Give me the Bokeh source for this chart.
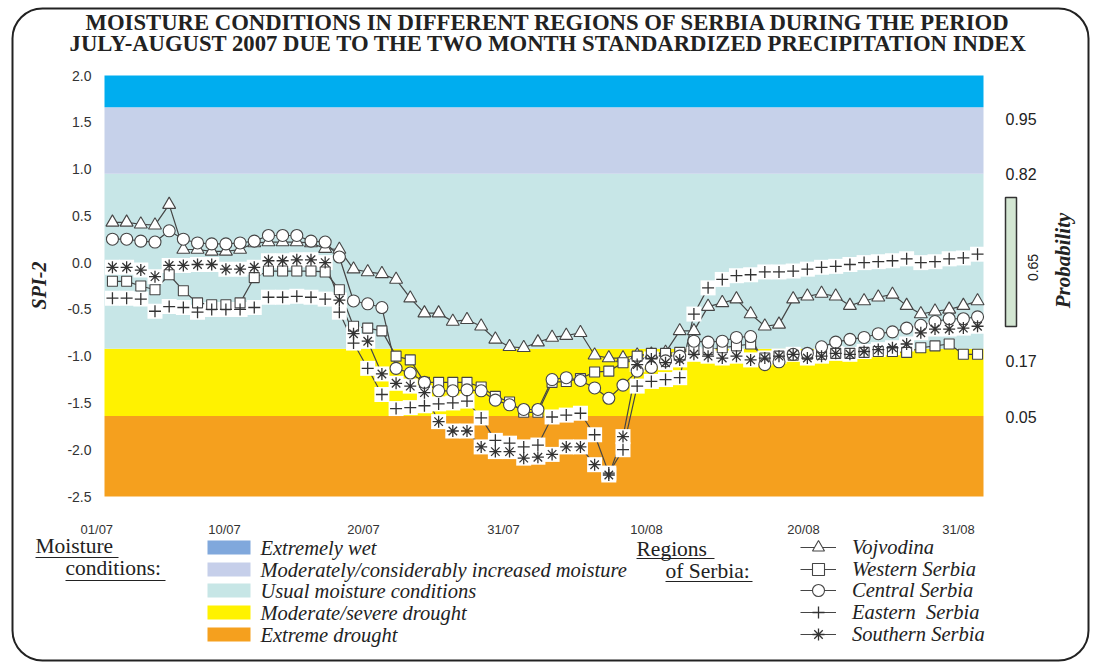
import math
from bokeh.plotting import figure
from bokeh.models import (FixedTicker, LinearAxis, Label, BoxAnnotation, Legend,
                          LegendItem, Range1d)
from bokeh.embed import file_html
from bokeh.resources import INLINE

# ---------------- data ----------------
DAYS = list(range(62))  # 01/07 .. 31/08
DATE_LABELS = ["01/07", "10/07", "20/07", "31/07", "10/08", "20/08", "31/08"]

VOJVODINA = [0.43, 0.43, 0.41, 0.40, 0.62, 0.14, 0.14, 0.12, 0.12, 0.14,
             0.21, 0.22, 0.22, 0.22, 0.21, 0.15, 0.14, -0.07, -0.10, -0.12,
             -0.18, -0.38, -0.54, -0.54, -0.63, -0.61, -0.68, -0.82, -0.90, -0.91,
             -0.85, -0.80, -0.78, -0.75, -0.99, -1.02, -1.02, -0.99, -0.98, -0.96,
             -0.73, -0.73, -0.47, -0.43, -0.39, -0.55, -0.68, -0.66, -0.39, -0.36,
             -0.33, -0.36, -0.46, -0.41, -0.37, -0.34, -0.46, -0.55, -0.52, -0.50,
             -0.46, -0.41]
WESTERN = [-0.20, -0.20, -0.25, -0.29, -0.13, -0.30, -0.43, -0.45, -0.45, -0.43,
           -0.16, -0.09, -0.09, -0.09, -0.09, -0.10, -0.29, -0.68, -0.70, -0.73,
           -1.00, -1.04, -1.28, -1.28, -1.28, -1.28, -1.33, -1.43, -1.49, -1.60,
           -1.60, -1.28, -1.27, -1.24, -1.17, -1.16, -1.07, -1.00, -0.97, -0.97,
           -0.96, -0.93, -0.93, -0.91, -0.89, -0.87, -1.02, -1.00, -0.99, -0.98,
           -0.98, -0.97, -0.97, -0.96, -0.95, -0.95, -0.96, -0.91, -0.89, -0.87,
           -0.98, -0.98]
CENTRAL = [0.25, 0.25, 0.23, 0.22, 0.34, 0.25, 0.21, 0.20, 0.20, 0.21,
           0.23, 0.29, 0.29, 0.29, 0.23, 0.22, 0.06, -0.41, -0.44, -0.48,
           -1.13, -1.18, -1.28, -1.37, -1.37, -1.36, -1.37, -1.47, -1.52, -1.57,
           -1.57, -1.25, -1.23, -1.26, -1.34, -1.45, -1.31, -1.16, -1.12, -1.05,
           -1.00, -0.84, -0.85, -0.84, -0.80, -0.79, -1.09, -1.06, -0.98, -0.97,
           -0.90, -0.85, -0.82, -0.80, -0.76, -0.74, -0.70, -0.67, -0.63, -0.60,
           -0.60, -0.58]
EASTERN = [-0.38, -0.38, -0.39, -0.52, -0.47, -0.48, -0.53, -0.50, -0.50, -0.50,
           -0.48, -0.37, -0.37, -0.36, -0.37, -0.39, -0.53, -0.86, -1.13, -1.41,
           -1.56, -1.55, -1.53, -1.51, -1.50, -1.48, -1.66, -1.90, -1.93, -1.97,
           -1.95, -1.65, -1.63, -1.61, -1.84, -2.25, -2.00, -1.32, -1.27, -1.25,
           -1.23, -0.55, -0.27, -0.18, -0.14, -0.13, -0.10, -0.10, -0.09, -0.07,
           -0.05, -0.04, -0.02, 0.00, 0.01, 0.02, 0.04, 0.00, 0.01, 0.04,
           0.05, 0.09]
SOUTHERN = [-0.05, -0.05, -0.08, -0.15, -0.03, -0.03, -0.02, -0.02, -0.07, -0.07,
            -0.05, 0.02, 0.02, 0.03, 0.03, 0.00, -0.40, -0.76, -0.84, -1.19,
            -1.29, -1.32, -1.39, -1.70, -1.80, -1.80, -1.97, -2.02, -2.02, -2.09,
            -2.08, -2.05, -1.97, -1.97, -2.16, -2.27, -1.86, -1.09, -1.03, -1.07,
            -1.04, -0.98, -1.00, -1.02, -1.00, -1.04, -1.02, -1.00, -0.98, -1.02,
            -1.00, -0.97, -0.98, -0.95, -0.93, -0.91, -0.87, -0.75, -0.71, -0.71,
            -0.70, -0.68]

# SPI-2 class boundaries (moisture condition bands)
BAND_LOW = [-2.5, -1.64, -0.92, 0.95, 1.66]
BAND_HIGH = [-1.64, -0.92, 0.95, 1.66, 2.0]
BAND_NAMES = ["Extreme drought", "Moderate/severe drought", "Usual moisture conditions",
              "Moderately/considerably increased moisture", "Extremely wet"]
PROB_LABELS = ["0.95", "0.82", "0.17", "0.05"]
SPI_TICKS = [-2.5, -2.0, -1.5, -1.0, -0.5, 0.0, 0.5, 1.0, 1.5, 2.0]

# ---------------- layout / style ----------------
W, H = 1095, 663
X_MIN, X_MAX = -0.56, 61.42          # extent of the chart area (days)
Y_MIN, Y_MAX = -2.5, 2.0             # extent of the chart area (SPI-2)
AREA_LEFT_PX, AREA_RIGHT_PX = 104, 983
AREA_TOP_PX, AREA_BOTTOM_PX = 75, 496
PX_PER_DAY = (AREA_RIGHT_PX - AREA_LEFT_PX) / (X_MAX - X_MIN)
PX_PER_SPI = (AREA_BOTTOM_PX - AREA_TOP_PX) / (Y_MAX - Y_MIN)
X_RANGE = (X_MIN - AREA_LEFT_PX / PX_PER_DAY, X_MAX + (W - AREA_RIGHT_PX) / PX_PER_DAY)
Y_RANGE = (Y_MIN - (H - AREA_BOTTOM_PX) / PX_PER_SPI, Y_MAX + AREA_TOP_PX / PX_PER_SPI)

BAND_COLORS = ["#f5a01e", "#fff200", "#c7e6e7", "#c6d1ea", "#00adef"]
SWATCH_COLORS = ["#f5a01e", "#fff200", "#c7e6e6", "#c6cfea", "#80a8dc"]
TICK_POS = [-1.1, 7.9, 17.7, 27.57, 37.66, 48.73, 59.66]
PROB_POS = [1.536, 0.946, -1.055, -1.65]
LEGEND_ROWS_PX = [547, 569, 590, 612, 634]
SERIF = "Liberation Serif"
SANS = "Liberation Sans"
INK = "#222222"
LINE = "#454545"

p = figure(width=W, height=H, output_backend="svg", toolbar_location=None,
           x_range=Range1d(*X_RANGE), y_range=Range1d(*Y_RANGE),
           x_axis_location=None, y_axis_location=None,
           min_border_left=0, min_border_right=0, min_border_top=0,
           min_border_bottom=0)
p.xgrid.visible = False
p.ygrid.visible = False
p.outline_line_color = None
p.background_fill_color = "white"
p.border_fill_color = "white"

# bands
p.quad(left=X_MIN, right=X_MAX, bottom=BAND_LOW, top=BAND_HIGH,
       fill_color=BAND_COLORS, line_color=None)


def make_axis(loc, ticks, labels, font, size, standoff, color):
    ax = LinearAxis(fixed_location=loc, ticker=FixedTicker(ticks=ticks),
                    major_label_overrides={t: l for t, l in zip(ticks, labels)},
                    major_label_text_font=font, major_label_text_font_size=size,
                    major_label_text_color=color, major_label_standoff=standoff,
                    axis_line_color=None, major_tick_line_color=None,
                    minor_tick_line_color=None)
    return ax


p.add_layout(make_axis(Y_MIN, TICK_POS, DATE_LABELS, SANS, "13px", 19, "#333333"), "below")
p.add_layout(make_axis(X_MIN, SPI_TICKS, [f"{t:.1f}" for t in SPI_TICKS], SANS, "14px", 7,
                       "#333333"), "left")
p.add_layout(make_axis(X_MAX, PROB_POS, PROB_LABELS, SANS, "16px", 16, INK), "right")

# series
series = [("Vojvodina", VOJVODINA, "triangle", 13),
          ("Western Serbia", WESTERN, "square", 10),
          ("Central Serbia", CENTRAL, "circle", 12),
          ("Eastern  Serbia", EASTERN, "cross", 12),
          ("Southern Serbia", SOUTHERN, "asterisk", 12)]
lines = {}
for name, vals, mk, sz in series:
    lines[name] = p.line(DAYS, vals, line_color=LINE, line_width=1.2)
for name, vals, mk, sz in series:
    if mk in ("cross", "asterisk"):
        p.scatter(DAYS, vals, marker="square", size=15, fill_color="white",
                  line_color=None)
marks = {}
for name, vals, mk, sz in series:
    if mk in ("cross", "asterisk"):
        marks[name] = p.scatter(DAYS, vals, marker=mk, size=sz, line_color="#333333",
                                line_width=1.3)
    else:
        marks[name] = p.scatter(DAYS, vals, marker=mk, size=sz, fill_color="white",
                                line_color=LINE, line_width=1.1)

# legend of regions: one single-item legend per row, so rows sit where the original has them
GLYPH_H = 30
for (name, *_), row in zip(series, LEGEND_ROWS_PX):
    leg = Legend(items=[LegendItem(label=name, renderers=[lines[name], marks[name]])],
                 location=(800, H - row - GLYPH_H / 2), orientation="vertical",
                 glyph_width=36, glyph_height=GLYPH_H, label_standoff=16, spacing=0,
                 padding=0, margin=0, border_line_color=None, background_fill_alpha=0,
                 label_text_font=SERIF, label_text_font_style="italic",
                 label_text_font_size="20.5px", label_text_color=INK, label_height=20)
    p.add_layout(leg)


# texts (screen units, origin at bottom-left of the canvas)
def txt(t, x, y, size, style="normal", font=SERIF, align="left", angle=0.0, color=INK):
    p.add_layout(Label(x=x, y=H - y, x_units="screen", y_units="screen", text=t,
                       text_font=font, text_font_size=size, text_font_style=style,
                       text_align=align, text_baseline="middle", angle=angle,
                       text_color=color))


def box(x0, x1, y0, y1, **kw):
    p.add_layout(BoxAnnotation(left=x0, right=x1, top=H - y0, bottom=H - y1,
                               left_units="screen", right_units="screen",
                               top_units="screen", bottom_units="screen", **kw))


txt("MOISTURE CONDITIONS IN DIFFERENT REGIONS OF SERBIA DURING THE PERIOD",
    548, 22, "22.7px", "bold", align="center")
txt("JULY-AUGUST 2007 DUE TO THE TWO MONTH STANDARDIZED PRECIPITATION INDEX",
    548, 43, "22.7px", "bold", align="center")
txt("SPI-2", 38, 285, "20px", "bold italic", align="center", angle=math.pi / 2)
txt("0.65", 1032, 267, "14px", font=SANS, align="center", angle=math.pi / 2)
txt("Probability", 1062, 260, "21px", "bold italic", align="center", angle=math.pi / 2)
txt("Moisture", 35, 545, "21.5px")
txt("conditions:", 65, 567, "21.5px")
txt("Regions", 636, 548, "21.5px")
txt("of Serbia:", 665, 570, "21.5px")

# legend of moisture conditions
for name, col, row in zip(reversed(BAND_NAMES), reversed(SWATCH_COLORS), LEGEND_ROWS_PX):
    box(207, 250, row - 7, row + 7, fill_color=col, fill_alpha=1, line_color=None)
    txt(name, 260, row, "20.5px", "italic")

for x0, x1, y in [(35, 118, 557), (65, 165, 580), (636, 714, 558), (665, 752, 581)]:
    box(x0, x1, y - 0.6, y + 0.6, fill_color=INK, fill_alpha=1, line_color=None)

# probability bar
box(1005, 1016, 197, 326, fill_color="#d3e6d2", fill_alpha=1, line_color="#333333",
    line_alpha=1, line_width=1.5)
# rounded frame around the whole chart
box(12, 1088, 8, 660, fill_alpha=0, line_color="#222222", line_alpha=1, line_width=2,
    border_radius=30)

open("out.html", "w").write(file_html(p, INLINE))
